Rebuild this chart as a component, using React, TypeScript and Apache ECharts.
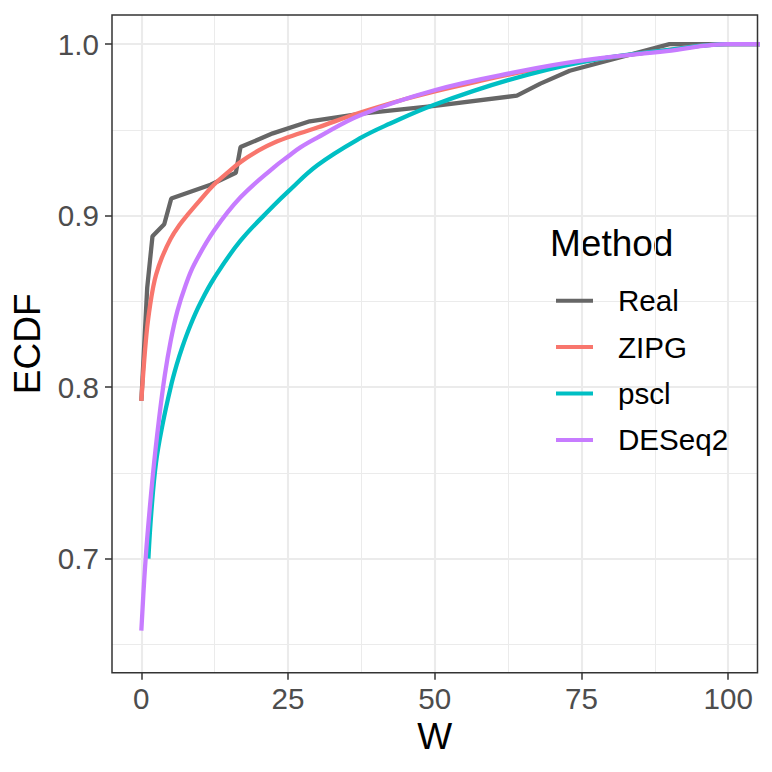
import React, { useEffect, useRef } from "react";
import * as echarts from "echarts";

const seriesNames = ["Real", "ZIPG", "pscl", "DESeq2"];
const seriesColors = ["#666666", "#F8766D", "#00BFC4", "#C77CFF"];

const realData = [
  [0, 0.792], [1, 0.858], [1.9, 0.888], [3.9, 0.895], [5.1, 0.91], [11.8, 0.918],
  [16.1, 0.925], [16.9, 0.94], [22.4, 0.948], [28.7, 0.955], [37.5, 0.9595],
  [50, 0.964], [64, 0.97], [68, 0.977], [73, 0.9845], [90, 1.0], [110, 1.0],
];
const zipgData = [
  [0, 0.792], [0.5, 0.816], [1, 0.835], [1.5, 0.848], [2, 0.858], [2.5, 0.8655],
  [3.5, 0.8755], [5, 0.8865], [6.5, 0.8945], [8, 0.901], [10, 0.909], [12.4, 0.9182],
  [15, 0.926], [17, 0.9315], [20, 0.938], [22.6, 0.9425], [27, 0.948], [30, 0.9514],
  [37.2, 0.96], [45, 0.968], [50, 0.9725], [57, 0.978], [64, 0.9832], [75, 0.9898],
  [89.5, 0.9965], [100, 1.0], [110, 1.0],
];
const psclData = [
  [1.2, 0.7], [1.7, 0.727], [2.5, 0.756], [3.6, 0.778], [5, 0.8], [6, 0.8128],
  [7, 0.8236], [8.4, 0.8364], [10, 0.8486], [12.4, 0.8635], [16.9, 0.8854], [22.6, 0.906],
  [25, 0.914], [30, 0.9294], [37.2, 0.945], [42.4, 0.9537], [49.7, 0.9644], [62.5, 0.979],
  [75.3, 0.9897], [89.5, 0.9965], [100, 1.0], [110, 1.0],
];
const deseq2Data = [
  [0, 0.658], [0.5, 0.688], [1, 0.712], [2, 0.75], [3, 0.781], [4, 0.807], [5, 0.827],
  [6.15, 0.8445], [7.5, 0.859], [9, 0.8715], [12.4, 0.8913], [16.9, 0.9107], [22.6, 0.9282],
  [25, 0.9345], [27.1, 0.9398], [30, 0.9455], [37.3, 0.9586], [49.8, 0.973], [64, 0.9838],
  [75.3, 0.9905], [89.5, 0.9959], [100, 1.0], [110, 1.0],
];
const allData = [realData, zipgData, psclData, deseq2Data];

const xTicks = [0, 25, 50, 75, 100];
const xMinor = [12.5, 37.5, 62.5, 87.5];
const yTicks = [0.7, 0.8, 0.9, 1.0];
const yMinor = [0.65, 0.75, 0.85, 0.95];

const FONT = "Liberation Sans, Arial, Helvetica, sans-serif";

export default function App() {
  const ref = useRef<HTMLDivElement>(null);
  useEffect(() => {
    const chart = echarts.init(ref.current!, null, { renderer: "svg" });
    const major = { color: "#EBEBEB", width: 2.1, type: "solid" };
    const minor = { color: "#EBEBEB", width: 1.07, type: "solid" };
    const gridLines = [
      ...xMinor.map((v) => ({ xAxis: v, lineStyle: minor })),
      ...yMinor.map((v) => ({ yAxis: v, lineStyle: minor })),
      ...xTicks.map((v) => ({ xAxis: v, lineStyle: major })),
      ...yTicks.map((v) => ({ yAxis: v, lineStyle: major })),
    ];
    chart.setOption({
      animation: false,
      backgroundColor: "#FFFFFF",
      grid: {
        left: 112,
        top: 15,
        right: 14.5,
        bottom: 99.3,
        show: true,
        z: 10,
        borderColor: "#333333",
        borderWidth: 1.5,
        backgroundColor: "transparent",
      },
      xAxis: {
        type: "value",
        min: -5,
        max: 105,
        name: "W",
        nameLocation: "middle",
        nameGap: 44,
        nameTextStyle: { fontSize: 37, color: "#000000", fontFamily: FONT },
        axisLine: { show: false, onZero: false },
        axisTick: { show: true, customValues: xTicks, length: 7, lineStyle: { color: "#333333", width: 1.5 } },
        axisLabel: { customValues: xTicks, fontSize: 29.6, color: "#4D4D4D", margin: 10.5, fontFamily: FONT },
        splitLine: { show: false },
      },
      yAxis: {
        type: "value",
        min: 0.6335,
        max: 1.017,
        name: "ECDF",
        nameLocation: "middle",
        nameGap: 66,
        nameRotate: 90,
        nameTextStyle: { fontSize: 37, color: "#000000", fontFamily: FONT },
        axisLine: { show: false, onZero: false },
        axisTick: { show: true, customValues: yTicks, length: 7, lineStyle: { color: "#333333", width: 1.5 } },
        axisLabel: {
          customValues: yTicks,
          fontSize: 29.6,
          color: "#4D4D4D",
          margin: 13,
          fontFamily: FONT,
          formatter: (v: number) => v.toFixed(1),
        },
        splitLine: { show: false },
      },
      legend: {
        data: seriesNames,
        orient: "vertical",
        left: 556,
        top: 277.5,
        padding: 0,
        itemGap: 0,
        itemWidth: 37,
        itemHeight: 4,
        icon: "rect",
        selectedMode: false,
        textStyle: {
          fontSize: 29.6,
          color: "#000000",
          fontFamily: FONT,
          lineHeight: 46.4,
          padding: [0, 0, 0, 20],
        },
      },
      graphic: [
        {
          type: "text",
          left: 550,
          top: 224.8,
          style: { text: "Method", fontSize: 37, fill: "#000000", fontFamily: FONT },
        },
      ],
      series: [
        {
          type: "line",
          name: "_grid",
          data: [],
          silent: true,
          z: 0,
          markLine: {
            silent: true,
            symbol: ["none", "none"],
            label: { show: false },
            emphasis: { disabled: true },
            z: 1,
            data: gridLines,
          },
        },
        ...seriesNames.map((name, i) => ({
          type: "line",
          name,
          data: allData[i],
          color: seriesColors[i],
          showSymbol: false,
          symbol: "none",
          smooth: i === 0 ? false : 0.4,
          clip: true,
          z: 2 + i,
          lineStyle: { color: seriesColors[i], width: 4.3 },
          emphasis: { disabled: true },
        })),
      ],
    });
    return () => chart.dispose();
  }, []);
  return (
    <div
      ref={ref}
      style={{ position: "fixed", left: 0, top: 0, width: 772, height: 772, background: "#FFFFFF" }}
    />
  );
}
